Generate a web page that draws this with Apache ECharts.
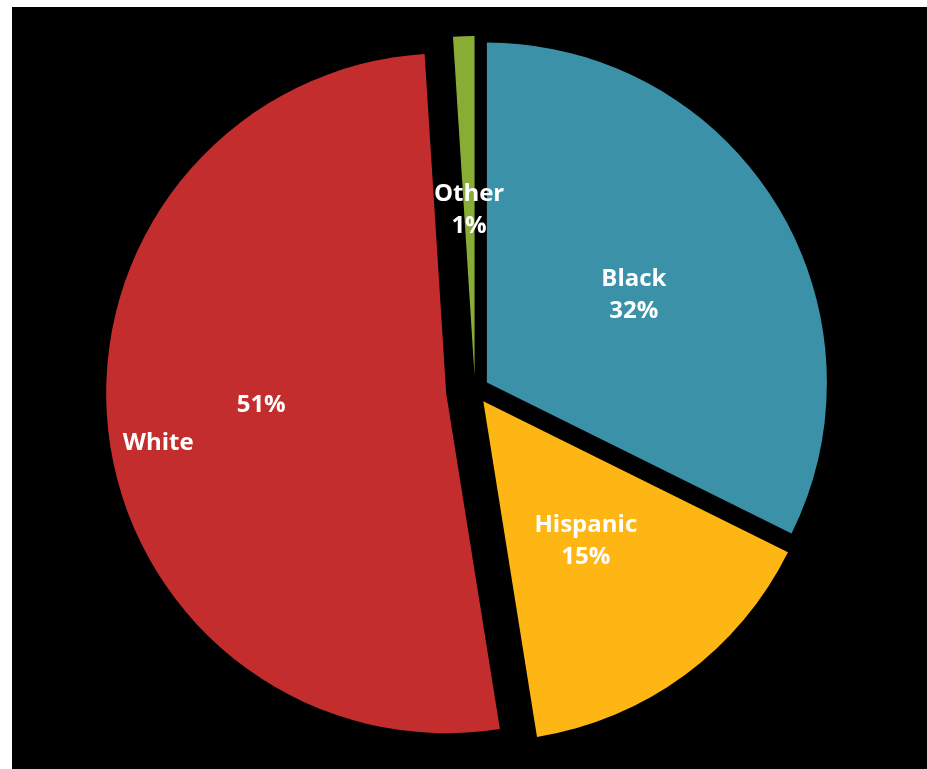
<!DOCTYPE html>
<html>
<head>
<meta charset="utf-8">
<script src="https://cdn.jsdelivr.net/npm/echarts@6/dist/echarts.min.js"></script>
<style>
  html, body { margin: 0; padding: 0; background: #ffffff; }
  #panel { position: absolute; left: 12px; top: 7px; right: 0; bottom: 0; background: #000000; }
  #chart { position: absolute; left: 0; top: 0; width: 927px; height: 769px; }
</style>
</head>
<body>
<div id="panel"></div>
<div id="chart"></div>
<script>
// Population share by group (percent)
const categories = ['Black', 'Hispanic', 'White', 'Other'];
const shares = [32, 15, 51, 1];

const sliceColors = ['#3B92A8', '#FDB613', '#C32D2E', '#89AC37'];
const explodeOffsets = [14, 14, 29, 14];   // how far each slice is pulled out, px
const labelShift = { Black: [0, 4], Hispanic: [0, 1], Other: [0, 7] };
const pieCenter = [475, 390];
const pieRadius = 340;

const total = shares.reduce((a, b) => a + b, 0);

const textStyle = {
  color: '#ffffff',
  fontFamily: 'Open Sans',
  fontWeight: 'bold',
  fontSize: 24
};

const baseLabel = Object.assign({
  show: true,
  position: 'inside',
  lineHeight: 32,
  formatter: p => p.name + '\n' + p.value + '%'
}, textStyle);

let before = 0;
const series = categories.map((name, i) => {
  const v = shares[i];
  const midRad = (before + v / 2) / total * 2 * Math.PI;
  const cx = pieCenter[0] + explodeOffsets[i] * Math.sin(midRad);
  const cy = pieCenter[1] - explodeOffsets[i] * Math.cos(midRad);
  const startAngle = 90 - before / total * 360;
  before += v;

  let label = Object.assign({}, baseLabel);
  if (labelShift[name]) {
    label.offset = labelShift[name];
  }
  if (name === 'White') {
    label = Object.assign({}, baseLabel, {
      width: 163,
      overflow: 'none',
      offset: [-70, 12],
      formatter: p => '{v|' + p.value + '%}\n{n|' + p.name + '}',
      rich: {
        v: Object.assign({ align: 'right', lineHeight: 38 }, textStyle),
        n: Object.assign({ align: 'left', lineHeight: 38 }, textStyle)
      }
    });
  }

  return {
    type: 'pie',
    center: [cx, cy],
    radius: [0, pieRadius],
    startAngle: startAngle,
    clockwise: true,
    silent: true,
    animation: false,
    avoidLabelOverlap: false,
    minAngle: 0,
    itemStyle: { borderWidth: 0 },
    emphasis: { disabled: true },
    label: label,
    labelLine: { show: false },
    data: [
      { name: name, value: v, itemStyle: { color: sliceColors[i], borderWidth: 0 } },
      { name: '', value: total - v, itemStyle: { color: 'rgba(0,0,0,0)', borderWidth: 0 }, label: { show: false } }
    ]
  };
});

const chart = echarts.init(document.getElementById('chart'), null, { renderer: 'canvas' });
chart.setOption({
  backgroundColor: 'transparent',
  animation: false,
  tooltip: { show: false },
  legend: { show: false },
  series: series
});
</script>
</body>
</html>
